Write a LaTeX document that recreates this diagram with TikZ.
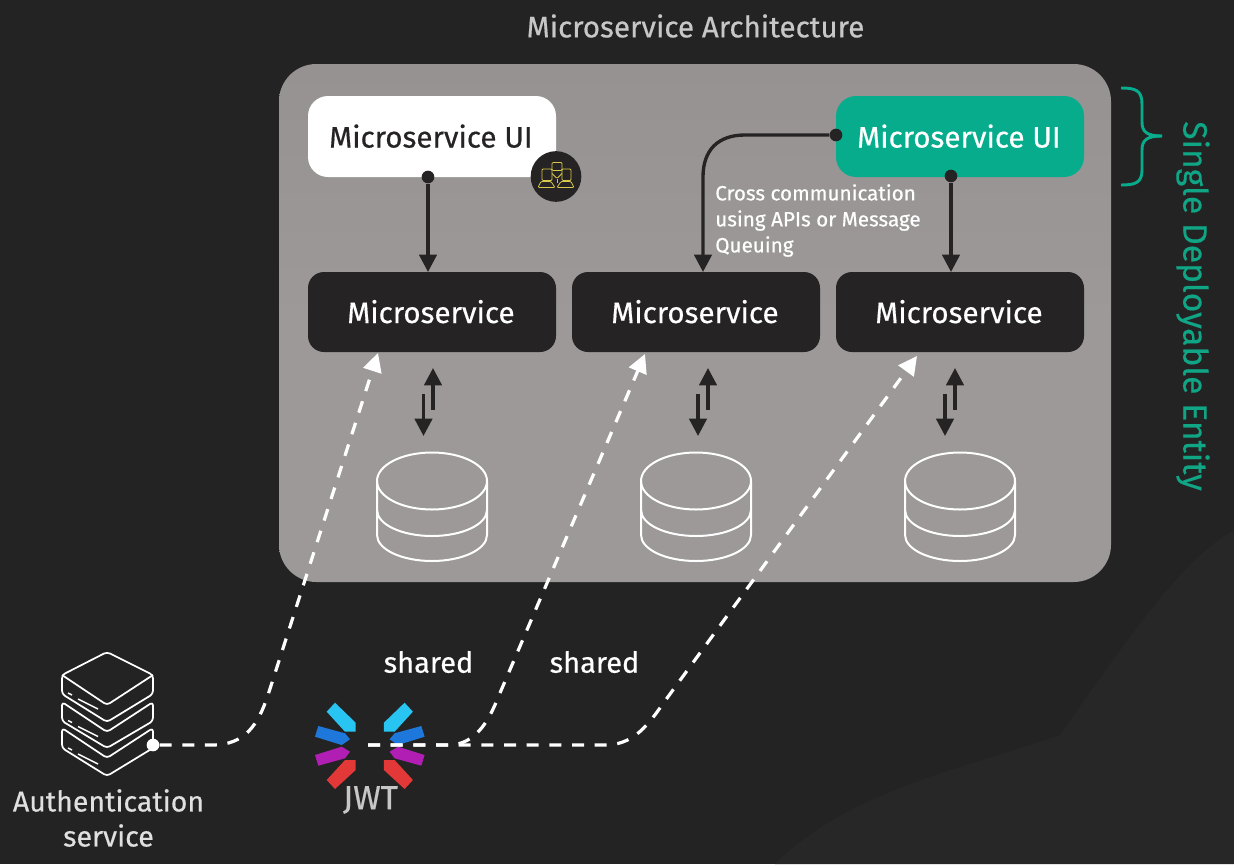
\documentclass[tikz,border=0pt]{standalone}
\usepackage{fontspec}
\setmainfont{Fira Sans}[RawFeature={embolden=0.45}]
\usetikzlibrary{arrows.meta,calc}
\definecolor{bgdark}{HTML}{232323}
\definecolor{bglight}{HTML}{272727}
\definecolor{paneltop}{HTML}{969292}
\definecolor{panelgrey}{HTML}{9D9999}
\definecolor{inkdark}{HTML}{252323}
\definecolor{teal}{HTML}{07AC8D}
\definecolor{tealtext}{HTML}{0FA585}
\definecolor{jcyan}{HTML}{28C5F2}
\definecolor{jblue}{HTML}{1E78DC}
\definecolor{jpurple}{HTML}{B01EB4}
\definecolor{jred}{HTML}{E23838}
\definecolor{iconyellow}{HTML}{D9C94A}
\newcommand{\boxlabel}[1]{\raisebox{0.8pt}{#1\kern1.6pt}}
\tikzset{
  x=0.75pt,y=-0.75pt,
  uibox/.style={rounded corners=15pt,minimum width=186pt,minimum height=60.75pt,inner sep=0pt,font=\fontsize{22.2}{26}\selectfont},
  svcbox/.style={uibox,rounded corners=12pt,minimum height=60pt,fill=inkdark,text=white},
  solidarrow/.style={draw=inkdark,line width=2.5pt,-{Triangle[width=13pt,length=13pt]}},
  startdot/.style={circle,fill=inkdark,inner sep=0pt,minimum size=9.5pt},
  dashedarrow/.style={draw=white,line width=2.4pt,dash pattern=on 9pt off 8pt,-{Triangle[width=14pt,length=14pt]}},
  dbline/.style={draw=white,line width=1.5pt},
  srv/.style={draw=white,line width=1.3pt,line join=round,rounded corners=2.5pt},
  plainlabel/.style={text=white,inner sep=0pt,font=\fontsize{21.7}{26}\selectfont},
  greylabel/.style={text=white!78!black,inner sep=0pt,font=\fontsize{22.2}{26}\selectfont},
}
\newcommand{\dbicon}[1]{%
  \begin{scope}[shift={(#1,0)}]
    \draw[dbline] (0,481) ellipse [x radius=55,y radius=28.5];
    \draw[dbline] (-55,481) -- (-55,535) arc[start angle=180,end angle=360,x radius=55,y radius=-26] -- (55,481);
    \draw[dbline] (-55,510) arc[start angle=180,end angle=360,x radius=55,y radius=-26];
  \end{scope}}
\newcommand{\blades}[1]{%
  \begin{scope}[shift={(369.8,0)},xscale=#1]
    \fill[jcyan] (-43.1,711.7) -- (-34.8,702.7) -- (-14.1,722.7) -- (-14.1,731.7) -- (-24.8,731.7) -- cycle;
    \fill[jblue] (-51.5,726) -- (-54.8,736.7) -- (-28.1,745) -- (-19.8,739.3) -- (-24.8,733.3) -- cycle;
    \fill[jpurple] (-54.8,755) -- (-51.5,765.7) -- (-24.8,758.3) -- (-19.8,751.7) -- (-28.1,746.7) -- cycle;
    \fill[jred] (-43.1,780) -- (-34.8,789) -- (-14.1,770) -- (-14.1,760) -- (-24.8,760) -- cycle;
  \end{scope}}
\begin{document}
\begin{tikzpicture}
\useasboundingbox (0,0) rectangle (1234,864);
\fill[bgdark] (0,0) rectangle (1234,864);
\fill[bglight] (1234,530) .. controls (1180,560) and (1120,650) .. (1060,735)
  .. controls (960,770) and (850,790) .. (775,864) -- (1234,864) -- cycle;

\node[greylabel] (title) at (695.5,26) {Microservice Architecture};
\node[top color=paneltop,bottom color=panelgrey,middle color=panelgrey,rounded corners=28pt,minimum width=624pt,minimum height=388.5pt,inner sep=0pt] (panel) at (695,323) {};

\node[uibox,fill=white,text=inkdark] (uia) at (432,136.5) {\boxlabel{Microservice UI}};
\node[uibox,fill=teal,text=white] (uib) at (960,136.5) {\boxlabel{Microservice UI}};
\node[svcbox] (sa) at (432,312) {\boxlabel{Microservice}};
\node[svcbox] (sb) at (696,312) {\boxlabel{Microservice}};
\node[svcbox] (sc) at (960,312) {\boxlabel{Microservice}};

% team badge
\node[circle,fill=inkdark,minimum size=38pt,inner sep=0pt] (badge) at (556,176.5) {};
\begin{scope}[draw=iconyellow,line width=0.6pt,shift={(556,176.5)},rounded corners=0.8pt]
  \draw (-4,-14) rectangle (6,-6);
  \draw (-14,-7.6) rectangle (-4,4);
  \draw (6,-7.6) rectangle (15,4);
  \draw (-18,11) -- (-15,5) -- (-5,5) -- (-1,11) -- cycle;
  \draw (1,11) -- (5,5) -- (15,5) -- (18,11) -- cycle;
  \draw (-4,-3) -- (1,2) -- (6,-3);
  \draw (1,2) -- (1,6);
\end{scope}

% solid connectors
\node[startdot] (da) at (428,177) {};
\coordinate (ta) at (428,272);
\draw[solidarrow] (da) -- (ta);
\node[startdot] (db) at (951,176) {};
\coordinate (tb) at (951,272);
\draw[solidarrow] (db) -- (tb);
\node[startdot] (dc) at (836,135) {};
\coordinate (tc) at (703,272);
\draw[solidarrow] (dc) -- (745,135) .. controls (718,135) and (703,150) .. (703,177) -- (tc);

\node[anchor=north west,align=left,text=white,inner sep=0pt,font=\fontsize{15.5}{19.5}\selectfont] (cross) at (715,184)
  {Cross communication\\using APIs or Message\\Queuing};

% db arrows
\foreach \u/\d/\n in {433/423.5/a,708/698/b,955/945/c}{
  \coordinate (up\n s) at (\u,410); \coordinate (up\n t) at (\u,368);
  \coordinate (dn\n s) at (\d,394); \coordinate (dn\n t) at (\d,436);
  \draw[solidarrow] (up\n s) -- (up\n t);
  \draw[solidarrow] (dn\n s) -- (dn\n t);
}
\dbicon{432}\dbicon{696}\dbicon{960}

% server icon
\draw[srv] (62,728) -- (62,748) -- (107,776) -- (153,748) -- (153,728) -- (107,758) -- cycle;
\draw[srv] (62,702) -- (62,721) -- (107,748) -- (153,721) -- (153,702) -- (107,732) -- cycle;
\draw[srv] (62,675) -- (62,694) -- (107,722) -- (153,694) -- (153,675) -- (107,652) -- cycle;
\draw[srv] (62,675) -- (107,705) -- (153,675);
\foreach \yy in {0,27.5,55}{
  \draw[white,line width=1.1pt] (68,693+\yy) -- (72,695+\yy) (78,699+\yy) -- (98,709+\yy);
}
\node[plainlabel,align=center,font=\fontsize{21.4}{26.25}\selectfont,text=white!88!black] (auth) at (108.5,818) {Authentication\\service};

% JWT
\blades{1}\blades{-1}
\node[greylabel,font=\fontsize{25}{28}\selectfont] (jwt) at (370.5,800) {JWT};
\node[plainlabel] (sh1) at (428.5,662) {shared};
\node[plainlabel] (sh2) at (594.5,662) {shared};

% dashed connectors
\node[circle,fill=white,inner sep=0pt,minimum size=9.5pt] (authdot) at (153,745) {};
\coordinate (jwtc) at (368,745);
\coordinate (h1) at (378,353);
\coordinate (h2) at (645,354);
\coordinate (h3) at (917,356);
\draw[dashedarrow] (authdot) -- (212,745) .. controls (245,745) and (258,725) .. (268,695) -- (h1);
\draw[dashedarrow] (jwtc) -- (448,745) .. controls (470,745) and (485,730) .. (497,700) -- (h2);
\draw[dashedarrow] (jwtc) -- (605,745) .. controls (630,745) and (645,730) .. (662,705) -- (h3);

% brace
\coordinate (brt) at (1121,88);
\coordinate (brm) at (1162,136);
\coordinate (brb) at (1121,185);
\draw[teal,line width=2.2pt] (brt) .. controls (1135,88) and (1142,90) .. (1142,104) -- (1142,122)
  .. controls (1142,132) and (1147,136) .. (brm);
\draw[teal,line width=2.2pt] (brb) .. controls (1135,185) and (1142,183) .. (1142,170) -- (1142,150)
  .. controls (1142,140) and (1147,136) .. (brm);
\node[rotate=-90,text=tealtext,inner sep=0pt,font=\fontsize{25.2}{30}\selectfont] (sde) at (1193,306) {Single Deployable Entity};
\end{tikzpicture}
\end{document}
